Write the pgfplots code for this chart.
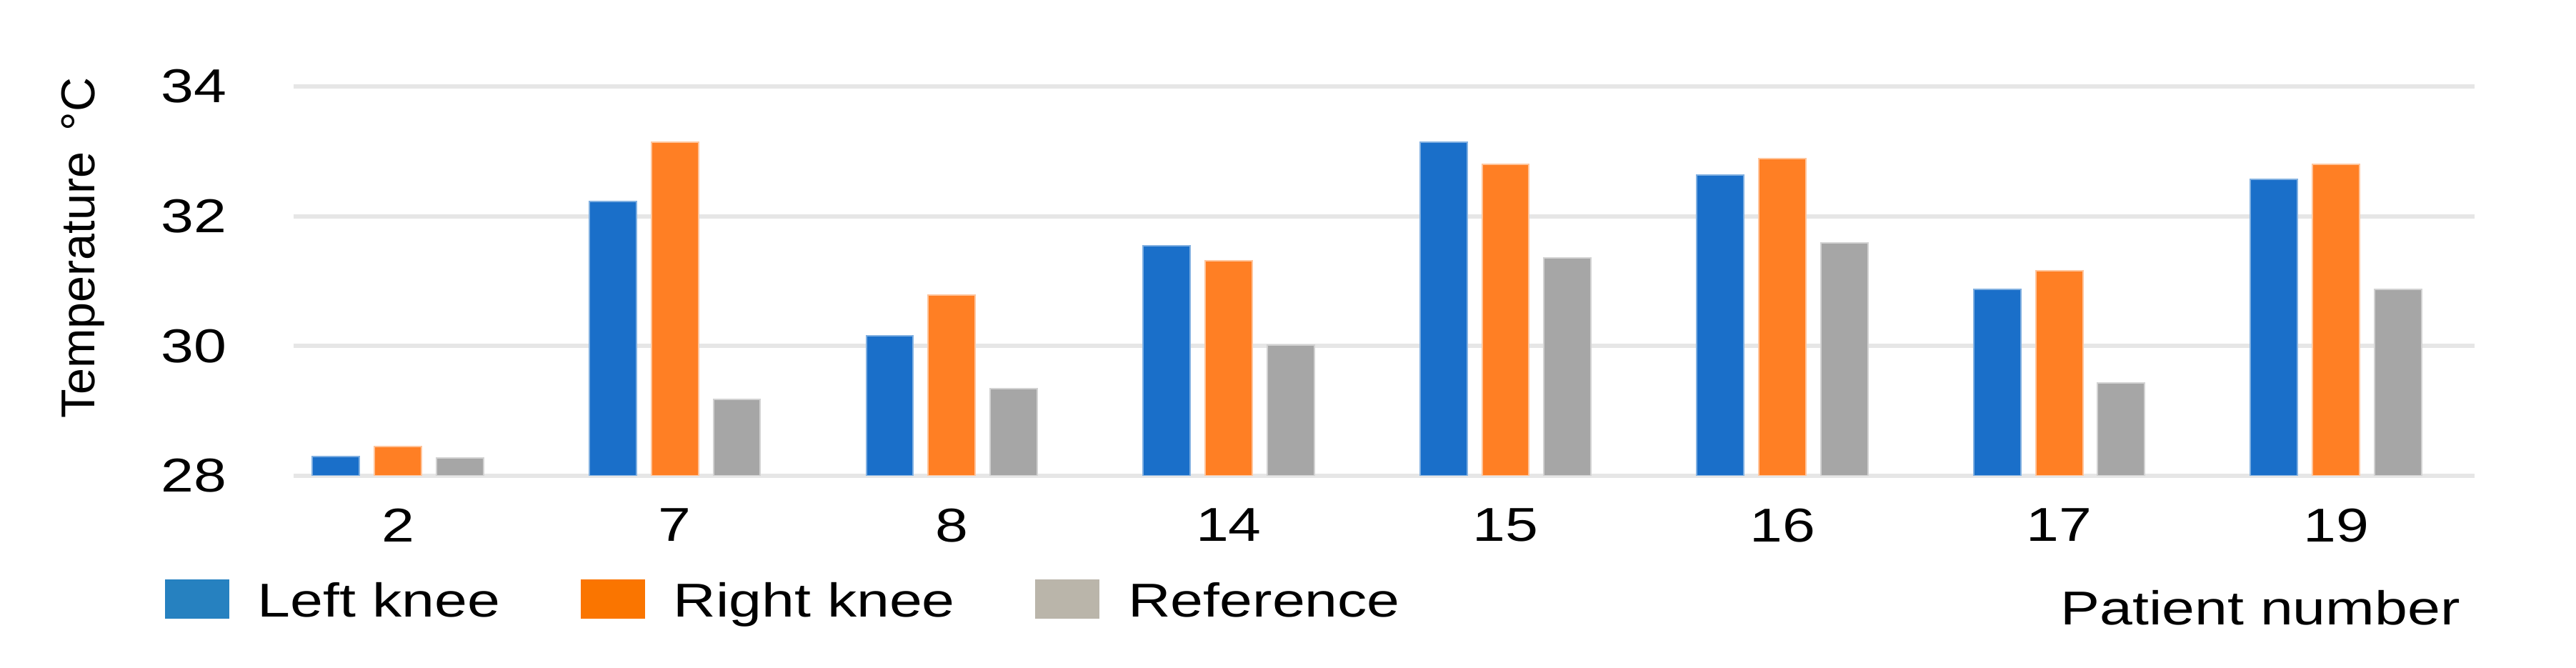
\documentclass[border=0pt]{standalone}
\usepackage{pgfplots}
\pgfplotsset{compat=1.18}
\usepackage{fontspec}
\setmainfont{Liberation Sans}
\definecolor{barblue}{HTML}{1A6FC9}
\definecolor{barorange}{HTML}{FF7F24}
\definecolor{bargray}{HTML}{A6A6A6}
\definecolor{legblue}{HTML}{2681C0}
\definecolor{legorange}{HTML}{FA7500}
\definecolor{leggray}{HTML}{BAB5AA}
\definecolor{gridgray}{HTML}{E6E6E6}
\newcommand{\sx}[1]{\scalebox{1.24}[1]{#1}}
\begin{document}
\begin{tikzpicture}[font=\fontsize{13.3}{15}\selectfont]
\useasboundingbox (0,0) rectangle (721.2pt,187pt);
\begin{axis}[
  at={(82.2pt,53.8pt)}, anchor=south west,
  width=610.6pt, height=109pt, scale only axis,
  xmin=-0.377, xmax=7.5, ymin=28, ymax=34,
  xtick={0,1,2,3,4,5,6,7},
  xticklabels={\sx{2},\sx{7},\sx{8},\sx{14},\sx{15},\sx{16},\sx{17},\sx{19}},
  ytick={28,30,32,34},
  yticklabels={\sx{28},\sx{30},\sx{32},\sx{34}},
  axis line style={draw=none},
  major tick style={draw=none},
  ymajorgrids,
  grid style={gridgray, line width=1.2pt},
  yticklabel style={anchor=east, inner sep=0pt, xshift=-18.6pt},
  xticklabel style={anchor=north, inner sep=0pt, yshift=-9pt},
  ylabel={Temperature \,°C},
  ylabel style={at={(axis description cs:-0.0966,0.585)}, anchor=center, inner sep=0pt},
  xlabel={\sx{Patient number}},
  xlabel style={at={(axis description cs:0.9937,-0.3817)}, anchor=base east, inner sep=0pt},
  legend columns=3,
  legend style={at={(axis description cs:-0.0593,-0.3215)}, anchor=west, draw=none, fill=none,
    inner sep=0pt, nodes={inner sep=0pt},
    /tikz/every odd column/.append style={column sep=8pt},
    /tikz/every even column/.append style={column sep=22.5pt}},
  legend image code/.code={\fill[#1, draw=none] (0pt,-4.6pt) rectangle (18pt,6.4pt);},
]
\addlegendimage{fill=legblue, draw=none}
\addlegendentry{\sx{Left knee}}
\addlegendimage{fill=legorange, draw=none}
\addlegendentry{\sx{Right knee}}
\addlegendimage{fill=leggray, draw=none}
\addlegendentry{\sx{Reference}}

\addplot[ybar, bar width=0.17, bar shift=-0.224, fill=barblue, draw=barblue!55, line width=0.4pt, forget plot]
  coordinates {(0,28.30) (1,32.23) (2,30.16) (3,31.55) (4,33.14) (5,32.64) (6,30.87) (7,32.57)};
\addplot[ybar, bar width=0.17, bar shift=0, fill=barorange, draw=barorange!45, line width=0.4pt, forget plot]
  coordinates {(0,28.45) (1,33.14) (2,30.78) (3,31.31) (4,32.80) (5,32.89) (6,31.16) (7,32.80)};
\addplot[ybar, bar width=0.17, bar shift=0.224, fill=bargray, draw=bargray!50, line width=0.4pt, forget plot]
  coordinates {(0,28.28) (1,29.18) (2,29.34) (3,30.02) (4,31.36) (5,31.59) (6,29.43) (7,30.87)};
\end{axis}
\end{tikzpicture}
\end{document}
